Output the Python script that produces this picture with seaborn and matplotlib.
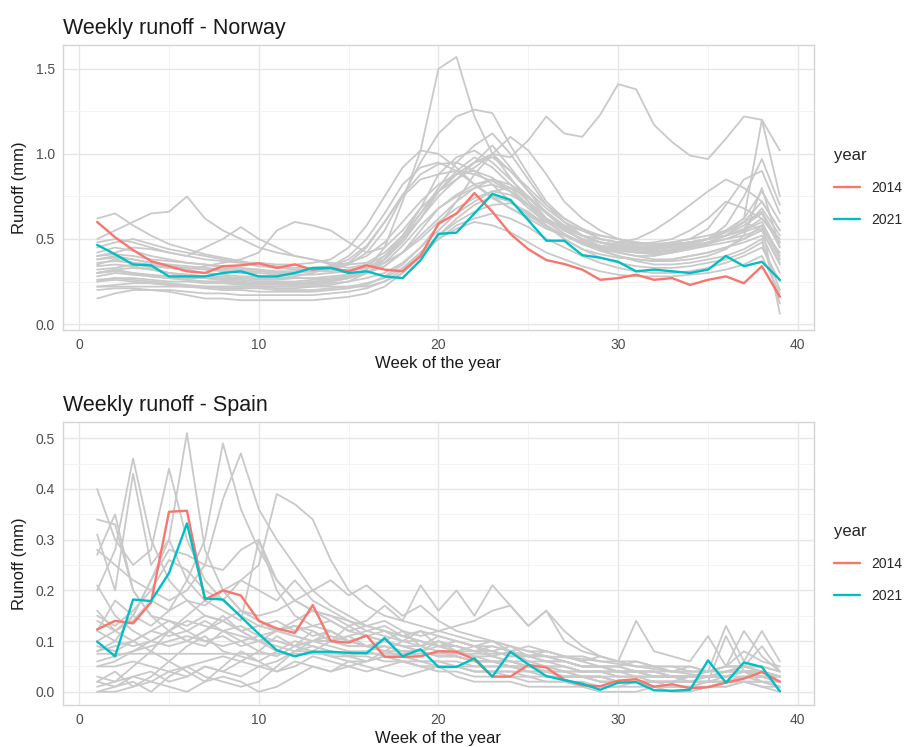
import pandas as pd
import matplotlib
matplotlib.use("Agg")
import matplotlib.pyplot as plt
import seaborn as sns
from matplotlib.lines import Line2D
from matplotlib.ticker import MultipleLocator, FormatStrFormatter

weeks = list(range(1, 40))

# ---- Norway: highlighted years ----
nor_2014 = [0.60, 0.51, 0.435, 0.37, 0.34, 0.31, 0.30, 0.34, 0.345, 0.357, 0.33, 0.35, 0.32, 0.33,
            0.31, 0.345, 0.32, 0.31, 0.40, 0.59, 0.65, 0.77, 0.66, 0.53, 0.44, 0.376, 0.353, 0.32,
            0.26, 0.27, 0.29, 0.26, 0.27, 0.23, 0.26, 0.28, 0.24, 0.34, 0.16]
nor_2021 = [0.465, 0.41, 0.35, 0.345, 0.28, 0.28, 0.28, 0.30, 0.31, 0.28, 0.28, 0.30, 0.33, 0.33,
            0.30, 0.31, 0.28, 0.27, 0.375, 0.53, 0.537, 0.65, 0.765, 0.73, 0.61, 0.49, 0.49, 0.405,
            0.39, 0.366, 0.31, 0.32, 0.31, 0.30, 0.32, 0.40, 0.34, 0.366, 0.26]

# ---- Norway: other years ----
nor_g01 = [0.35, 0.38, 0.36, 0.33, 0.30, 0.29, 0.28, 0.27, 0.27, 0.26, 0.26, 0.27, 0.27, 0.26, 0.27, 0.30, 0.38, 0.50, 0.62, 0.78, 0.88, 0.95, 1.00, 0.98, 1.08, 1.22, 1.12, 1.10, 1.23, 1.41, 1.38, 1.17, 1.07, 0.99, 0.97, 1.09, 1.22, 1.20, 1.02]
nor_g02 = [0.30, 0.32, 0.30, 0.28, 0.27, 0.26, 0.25, 0.25, 0.24, 0.24, 0.24, 0.23, 0.24, 0.25, 0.27, 0.32, 0.45, 0.72, 1.02, 1.50, 1.57, 1.22, 1.00, 0.86, 0.72, 0.62, 0.55, 0.50, 0.46, 0.44, 0.45, 0.42, 0.44, 0.46, 0.48, 0.52, 0.60, 0.72, 0.55]
nor_g03 = [0.42, 0.45, 0.43, 0.40, 0.38, 0.36, 0.35, 0.33, 0.32, 0.32, 0.30, 0.30, 0.31, 0.32, 0.35, 0.42, 0.55, 0.75, 0.95, 1.12, 1.22, 1.26, 1.24, 1.05, 0.88, 0.72, 0.62, 0.56, 0.50, 0.48, 0.46, 0.45, 0.47, 0.48, 0.50, 0.55, 0.62, 0.78, 0.60]
nor_g04 = [0.25, 0.27, 0.26, 0.25, 0.24, 0.23, 0.22, 0.22, 0.22, 0.22, 0.21, 0.21, 0.22, 0.23, 0.25, 0.30, 0.38, 0.50, 0.65, 0.80, 0.95, 1.05, 1.12, 1.00, 0.85, 0.70, 0.60, 0.52, 0.48, 0.45, 0.43, 0.42, 0.44, 0.46, 0.50, 0.58, 0.75, 0.97, 0.70]
nor_g05 = [0.50, 0.55, 0.60, 0.65, 0.66, 0.75, 0.62, 0.55, 0.50, 0.45, 0.42, 0.40, 0.38, 0.36, 0.35, 0.36, 0.42, 0.52, 0.68, 0.88, 0.98, 1.02, 0.95, 0.85, 0.75, 0.62, 0.55, 0.50, 0.48, 0.47, 0.45, 0.44, 0.46, 0.48, 0.50, 0.52, 0.55, 0.62, 0.50]
nor_g06 = [0.40, 0.42, 0.45, 0.44, 0.42, 0.40, 0.45, 0.50, 0.57, 0.50, 0.45, 0.40, 0.38, 0.35, 0.33, 0.35, 0.40, 0.50, 0.62, 0.75, 0.85, 0.95, 1.05, 0.92, 0.78, 0.65, 0.57, 0.52, 0.48, 0.46, 0.45, 0.46, 0.48, 0.50, 0.56, 0.70, 0.85, 0.90, 0.65]
nor_g07 = [0.32, 0.33, 0.35, 0.34, 0.33, 0.32, 0.34, 0.36, 0.38, 0.42, 0.55, 0.60, 0.58, 0.55, 0.48, 0.42, 0.45, 0.55, 0.68, 0.78, 0.85, 0.92, 1.00, 0.90, 0.78, 0.68, 0.60, 0.55, 0.50, 0.48, 0.47, 0.48, 0.50, 0.55, 0.62, 0.72, 0.68, 0.62, 0.48]
nor_g08 = [0.22, 0.22, 0.22, 0.22, 0.22, 0.22, 0.22, 0.22, 0.22, 0.22, 0.22, 0.22, 0.22, 0.22, 0.22, 0.22, 0.25, 0.30, 0.40, 0.52, 0.62, 0.70, 0.75, 0.72, 0.65, 0.58, 0.52, 0.47, 0.44, 0.42, 0.40, 0.40, 0.42, 0.44, 0.46, 0.48, 0.50, 0.55, 0.35]
nor_g09 = [0.15, 0.18, 0.20, 0.20, 0.19, 0.17, 0.15, 0.15, 0.14, 0.14, 0.14, 0.14, 0.14, 0.15, 0.16, 0.18, 0.22, 0.30, 0.40, 0.50, 0.58, 0.62, 0.65, 0.62, 0.57, 0.50, 0.45, 0.40, 0.36, 0.33, 0.31, 0.30, 0.30, 0.31, 0.33, 0.36, 0.40, 0.45, 0.25]
nor_g10 = [0.38, 0.40, 0.38, 0.36, 0.34, 0.33, 0.32, 0.31, 0.30, 0.30, 0.29, 0.29, 0.29, 0.30, 0.31, 0.33, 0.38, 0.48, 0.62, 0.78, 0.90, 0.98, 0.92, 0.82, 0.72, 0.62, 0.56, 0.52, 0.50, 0.48, 0.50, 0.55, 0.62, 0.70, 0.78, 0.85, 0.80, 0.72, 0.55]
nor_g11 = [0.28, 0.30, 0.29, 0.28, 0.27, 0.26, 0.25, 0.25, 0.24, 0.24, 0.24, 0.24, 0.25, 0.26, 0.28, 0.32, 0.40, 0.52, 0.65, 0.78, 0.88, 0.95, 0.98, 0.90, 0.80, 0.70, 0.62, 0.56, 0.52, 0.50, 0.48, 0.47, 0.48, 0.50, 0.52, 0.55, 0.62, 1.20, 0.75]
nor_g12 = [0.45, 0.48, 0.50, 0.47, 0.44, 0.42, 0.40, 0.38, 0.36, 0.34, 0.33, 0.32, 0.32, 0.33, 0.36, 0.45, 0.60, 0.75, 0.85, 0.88, 0.90, 0.88, 0.84, 0.78, 0.70, 0.62, 0.56, 0.52, 0.48, 0.45, 0.44, 0.43, 0.44, 0.45, 0.48, 0.50, 0.52, 0.56, 0.42]
nor_g13 = [0.30, 0.32, 0.33, 0.32, 0.30, 0.29, 0.28, 0.28, 0.27, 0.27, 0.27, 0.28, 0.30, 0.34, 0.40, 0.50, 0.65, 0.82, 0.92, 0.95, 0.90, 0.82, 0.75, 0.68, 0.62, 0.56, 0.52, 0.48, 0.45, 0.42, 0.40, 0.38, 0.38, 0.40, 0.42, 0.45, 0.48, 0.52, 0.30]
nor_g14 = [0.36, 0.37, 0.36, 0.35, 0.33, 0.32, 0.30, 0.29, 0.28, 0.28, 0.27, 0.27, 0.27, 0.28, 0.29, 0.30, 0.34, 0.42, 0.52, 0.62, 0.72, 0.80, 0.85, 0.82, 0.75, 0.66, 0.58, 0.52, 0.48, 0.46, 0.45, 0.45, 0.46, 0.48, 0.50, 0.52, 0.56, 0.68, 0.52]
nor_g15 = [0.26, 0.27, 0.27, 0.26, 0.25, 0.25, 0.24, 0.24, 0.23, 0.23, 0.23, 0.23, 0.23, 0.24, 0.25, 0.27, 0.30, 0.36, 0.45, 0.58, 0.72, 0.88, 1.00, 1.10, 1.02, 0.88, 0.72, 0.62, 0.55, 0.50, 0.47, 0.46, 0.47, 0.48, 0.50, 0.54, 0.60, 0.66, 0.48]
nor_g16 = [0.40, 0.41, 0.40, 0.38, 0.37, 0.36, 0.35, 0.34, 0.33, 0.32, 0.31, 0.31, 0.31, 0.31, 0.32, 0.33, 0.36, 0.42, 0.50, 0.60, 0.68, 0.74, 0.78, 0.76, 0.70, 0.62, 0.55, 0.50, 0.46, 0.44, 0.42, 0.41, 0.42, 0.44, 0.47, 0.50, 0.54, 0.58, 0.38]
nor_g17 = [0.62, 0.65, 0.58, 0.52, 0.47, 0.44, 0.41, 0.39, 0.37, 0.35, 0.34, 0.33, 0.33, 0.34, 0.36, 0.40, 0.48, 0.60, 0.72, 0.82, 0.88, 0.90, 0.86, 0.78, 0.68, 0.60, 0.53, 0.48, 0.45, 0.43, 0.42, 0.42, 0.43, 0.45, 0.48, 0.52, 0.58, 0.65, 0.45]
nor_g18 = [0.22, 0.23, 0.24, 0.24, 0.23, 0.22, 0.21, 0.20, 0.20, 0.19, 0.19, 0.19, 0.19, 0.20, 0.21, 0.23, 0.28, 0.35, 0.45, 0.55, 0.65, 0.72, 0.78, 0.80, 0.74, 0.65, 0.56, 0.49, 0.44, 0.40, 0.37, 0.35, 0.35, 0.36, 0.38, 0.40, 0.44, 0.50, 0.12]
nor_g19 = [0.34, 0.35, 0.34, 0.32, 0.30, 0.28, 0.27, 0.26, 0.25, 0.24, 0.24, 0.24, 0.24, 0.25, 0.27, 0.30, 0.36, 0.46, 0.58, 0.68, 0.75, 0.80, 0.82, 0.78, 0.70, 0.61, 0.53, 0.47, 0.43, 0.40, 0.38, 0.37, 0.38, 0.40, 0.42, 0.45, 0.50, 0.58, 0.06]
nor_g20 = [0.48, 0.50, 0.48, 0.45, 0.42, 0.40, 0.38, 0.37, 0.36, 0.36, 0.35, 0.35, 0.36, 0.38, 0.45, 0.58, 0.75, 0.92, 1.02, 1.00, 0.92, 0.82, 0.74, 0.68, 0.63, 0.60, 0.58, 0.55, 0.52, 0.50, 0.48, 0.47, 0.47, 0.48, 0.50, 0.52, 0.55, 0.60, 0.40]
nor_g21 = [0.30, 0.31, 0.30, 0.29, 0.28, 0.27, 0.27, 0.26, 0.26, 0.25, 0.25, 0.25, 0.26, 0.27, 0.28, 0.30, 0.34, 0.42, 0.55, 0.68, 0.76, 0.82, 0.85, 0.80, 0.70, 0.58, 0.50, 0.44, 0.41, 0.39, 0.38, 0.37, 0.37, 0.38, 0.40, 0.44, 0.52, 0.80, 0.45]
nor_g22 = [0.25, 0.26, 0.25, 0.24, 0.23, 0.22, 0.22, 0.21, 0.21, 0.21, 0.20, 0.20, 0.20, 0.21, 0.22, 0.24, 0.27, 0.33, 0.42, 0.52, 0.60, 0.66, 0.70, 0.71, 0.66, 0.58, 0.50, 0.44, 0.39, 0.36, 0.34, 0.33, 0.33, 0.34, 0.36, 0.38, 0.42, 0.48, 0.20]
nor_g23 = [0.38, 0.39, 0.38, 0.36, 0.35, 0.34, 0.33, 0.32, 0.31, 0.31, 0.30, 0.31, 0.32, 0.34, 0.38, 0.46, 0.60, 0.76, 0.88, 0.94, 0.95, 0.90, 0.82, 0.72, 0.64, 0.57, 0.52, 0.48, 0.46, 0.45, 0.44, 0.44, 0.45, 0.47, 0.50, 0.54, 0.60, 0.55, 0.36]
nor_g24 = [0.20, 0.21, 0.21, 0.20, 0.20, 0.19, 0.18, 0.18, 0.17, 0.17, 0.17, 0.17, 0.17, 0.18, 0.19, 0.21, 0.25, 0.32, 0.42, 0.50, 0.56, 0.60, 0.58, 0.54, 0.48, 0.42, 0.38, 0.34, 0.31, 0.29, 0.28, 0.28, 0.28, 0.29, 0.30, 0.32, 0.35, 0.40, 0.18]

# ---- Spain: highlighted years ----
esp_2014 = [0.123, 0.14, 0.135, 0.176, 0.355, 0.357, 0.182, 0.20, 0.19, 0.14, 0.125, 0.116, 0.171,
            0.10, 0.097, 0.111, 0.069, 0.069, 0.07, 0.08, 0.079, 0.064, 0.03, 0.03, 0.053, 0.048,
            0.024, 0.013, 0.011, 0.022, 0.025, 0.01, 0.015, 0.007, 0.009, 0.018, 0.026, 0.039, 0.02]
esp_2021 = [0.099, 0.07, 0.182, 0.179, 0.234, 0.332, 0.184, 0.182, 0.148, 0.114, 0.082, 0.07, 0.079,
            0.079, 0.077, 0.076, 0.106, 0.07, 0.084, 0.049, 0.049, 0.066, 0.03, 0.079, 0.054, 0.031,
            0.023, 0.016, 0.004, 0.018, 0.019, 0.003, 0.002, 0.004, 0.062, 0.018, 0.058, 0.049, 0.001]

# ---- Spain: other years ----
esp_g01 = [0.20, 0.28, 0.46, 0.30, 0.22, 0.18, 0.15, 0.14, 0.12, 0.10, 0.10, 0.09, 0.10, 0.09, 0.08, 0.08, 0.07, 0.07, 0.06, 0.06, 0.06, 0.05, 0.05, 0.05, 0.04, 0.04, 0.03, 0.03, 0.03, 0.02, 0.02, 0.02, 0.02, 0.02, 0.02, 0.02, 0.03, 0.03, 0.02]
esp_g02 = [0.08, 0.10, 0.15, 0.22, 0.30, 0.51, 0.28, 0.20, 0.16, 0.14, 0.12, 0.11, 0.10, 0.10, 0.09, 0.09, 0.08, 0.08, 0.08, 0.07, 0.07, 0.06, 0.06, 0.05, 0.05, 0.04, 0.04, 0.03, 0.03, 0.03, 0.03, 0.02, 0.02, 0.02, 0.02, 0.03, 0.03, 0.02, 0.02]
esp_g03 = [0.10, 0.12, 0.14, 0.18, 0.16, 0.22, 0.30, 0.49, 0.36, 0.28, 0.22, 0.18, 0.16, 0.14, 0.12, 0.11, 0.10, 0.09, 0.09, 0.08, 0.08, 0.07, 0.07, 0.06, 0.05, 0.05, 0.04, 0.04, 0.04, 0.03, 0.03, 0.03, 0.03, 0.03, 0.03, 0.03, 0.04, 0.04, 0.03]
esp_g04 = [0.28, 0.25, 0.22, 0.20, 0.18, 0.20, 0.25, 0.38, 0.47, 0.36, 0.30, 0.25, 0.20, 0.17, 0.15, 0.13, 0.12, 0.11, 0.10, 0.09, 0.09, 0.08, 0.08, 0.07, 0.07, 0.06, 0.06, 0.05, 0.05, 0.05, 0.04, 0.04, 0.04, 0.04, 0.04, 0.05, 0.05, 0.04, 0.03]
esp_g05 = [0.40, 0.30, 0.25, 0.28, 0.44, 0.30, 0.22, 0.18, 0.15, 0.13, 0.12, 0.11, 0.10, 0.10, 0.09, 0.09, 0.08, 0.08, 0.08, 0.07, 0.07, 0.06, 0.06, 0.06, 0.05, 0.05, 0.05, 0.04, 0.04, 0.04, 0.04, 0.03, 0.03, 0.03, 0.03, 0.03, 0.04, 0.04, 0.03]
esp_g06 = [0.05, 0.06, 0.08, 0.10, 0.12, 0.15, 0.18, 0.20, 0.22, 0.25, 0.39, 0.37, 0.34, 0.26, 0.20, 0.17, 0.15, 0.14, 0.13, 0.12, 0.11, 0.10, 0.10, 0.09, 0.08, 0.08, 0.07, 0.07, 0.06, 0.06, 0.05, 0.05, 0.05, 0.05, 0.04, 0.04, 0.05, 0.05, 0.04]
esp_g07 = [0.075, 0.075, 0.075, 0.075, 0.075, 0.075, 0.075, 0.075, 0.075, 0.075, 0.075, 0.075, 0.075, 0.075, 0.075, 0.075, 0.075, 0.075, 0.075, 0.075, 0.075, 0.075, 0.075, 0.075, 0.072, 0.070, 0.068, 0.065, 0.060, 0.055, 0.050, 0.045, 0.040, 0.035, 0.030, 0.030, 0.030, 0.030, 0.030]
esp_g08 = [0.34, 0.33, 0.20, 0.15, 0.12, 0.10, 0.12, 0.15, 0.12, 0.10, 0.09, 0.08, 0.08, 0.07, 0.07, 0.07, 0.06, 0.06, 0.06, 0.06, 0.05, 0.05, 0.05, 0.05, 0.05, 0.04, 0.04, 0.04, 0.04, 0.04, 0.03, 0.03, 0.03, 0.03, 0.03, 0.04, 0.04, 0.04, 0.03]
esp_g09 = [0.31, 0.20, 0.43, 0.25, 0.30, 0.22, 0.18, 0.16, 0.14, 0.30, 0.20, 0.15, 0.13, 0.12, 0.10, 0.09, 0.09, 0.08, 0.08, 0.07, 0.07, 0.06, 0.06, 0.06, 0.05, 0.05, 0.05, 0.04, 0.04, 0.04, 0.04, 0.03, 0.03, 0.03, 0.03, 0.04, 0.04, 0.03, 0.03]
esp_g10 = [0.00, 0.01, 0.02, 0.00, 0.03, 0.05, 0.03, 0.02, 0.01, 0.02, 0.05, 0.08, 0.10, 0.12, 0.10, 0.09, 0.08, 0.10, 0.12, 0.09, 0.08, 0.07, 0.06, 0.05, 0.05, 0.04, 0.03, 0.03, 0.02, 0.02, 0.02, 0.01, 0.01, 0.01, 0.01, 0.02, 0.02, 0.01, 0.01]
esp_g11 = [0.02, 0.04, 0.01, 0.03, 0.06, 0.04, 0.02, 0.05, 0.08, 0.06, 0.04, 0.05, 0.07, 0.06, 0.05, 0.06, 0.08, 0.07, 0.06, 0.05, 0.05, 0.04, 0.04, 0.03, 0.03, 0.02, 0.02, 0.02, 0.01, 0.01, 0.01, 0.01, 0.01, 0.01, 0.01, 0.01, 0.02, 0.02, 0.01]
esp_g12 = [0.21, 0.15, 0.12, 0.10, 0.09, 0.10, 0.12, 0.14, 0.16, 0.15, 0.16, 0.18, 0.20, 0.22, 0.19, 0.21, 0.18, 0.15, 0.17, 0.14, 0.12, 0.11, 0.10, 0.09, 0.08, 0.07, 0.06, 0.05, 0.05, 0.04, 0.04, 0.03, 0.03, 0.03, 0.03, 0.03, 0.04, 0.04, 0.03]
esp_g13 = [0.12, 0.10, 0.09, 0.10, 0.12, 0.14, 0.13, 0.12, 0.13, 0.11, 0.12, 0.14, 0.16, 0.15, 0.13, 0.14, 0.17, 0.14, 0.21, 0.16, 0.20, 0.15, 0.21, 0.17, 0.13, 0.16, 0.10, 0.08, 0.07, 0.06, 0.05, 0.05, 0.04, 0.04, 0.04, 0.05, 0.05, 0.04, 0.03]
esp_g14 = [0.06, 0.07, 0.08, 0.09, 0.10, 0.11, 0.10, 0.09, 0.10, 0.11, 0.10, 0.09, 0.10, 0.11, 0.10, 0.09, 0.10, 0.09, 0.08, 0.09, 0.08, 0.08, 0.09, 0.08, 0.07, 0.08, 0.07, 0.06, 0.07, 0.06, 0.14, 0.08, 0.07, 0.06, 0.11, 0.05, 0.08, 0.06, 0.05]
esp_g15 = [0.09, 0.08, 0.10, 0.12, 0.11, 0.12, 0.14, 0.12, 0.11, 0.10, 0.12, 0.13, 0.12, 0.10, 0.11, 0.12, 0.13, 0.11, 0.10, 0.09, 0.10, 0.09, 0.10, 0.08, 0.09, 0.08, 0.07, 0.06, 0.05, 0.05, 0.06, 0.05, 0.04, 0.05, 0.04, 0.13, 0.06, 0.12, 0.06]
esp_g16 = [0.15, 0.13, 0.16, 0.20, 0.26, 0.24, 0.20, 0.18, 0.22, 0.20, 0.18, 0.22, 0.18, 0.16, 0.14, 0.13, 0.12, 0.11, 0.12, 0.11, 0.10, 0.09, 0.09, 0.08, 0.07, 0.07, 0.06, 0.05, 0.05, 0.05, 0.04, 0.04, 0.03, 0.03, 0.03, 0.03, 0.04, 0.04, 0.03]
esp_g17 = [0.03, 0.02, 0.05, 0.08, 0.06, 0.09, 0.11, 0.08, 0.07, 0.06, 0.08, 0.10, 0.09, 0.08, 0.07, 0.06, 0.07, 0.06, 0.05, 0.05, 0.05, 0.04, 0.04, 0.04, 0.03, 0.03, 0.03, 0.03, 0.02, 0.02, 0.02, 0.02, 0.02, 0.03, 0.04, 0.05, 0.12, 0.07, 0.04]
esp_g18 = [0.08, 0.09, 0.10, 0.12, 0.14, 0.13, 0.15, 0.14, 0.12, 0.13, 0.14, 0.12, 0.13, 0.14, 0.12, 0.13, 0.14, 0.12, 0.11, 0.12, 0.13, 0.14, 0.16, 0.17, 0.13, 0.16, 0.12, 0.09, 0.07, 0.06, 0.06, 0.05, 0.05, 0.04, 0.04, 0.05, 0.05, 0.05, 0.04]
esp_g19 = [0.12, 0.18, 0.15, 0.22, 0.28, 0.27, 0.25, 0.24, 0.28, 0.30, 0.22, 0.18, 0.16, 0.15, 0.14, 0.12, 0.11, 0.10, 0.10, 0.09, 0.09, 0.08, 0.08, 0.07, 0.07, 0.06, 0.06, 0.05, 0.05, 0.04, 0.04, 0.04, 0.03, 0.03, 0.03, 0.04, 0.04, 0.04, 0.03]
esp_g20 = [0.27, 0.35, 0.20, 0.15, 0.14, 0.12, 0.10, 0.11, 0.09, 0.10, 0.08, 0.07, 0.08, 0.07, 0.06, 0.06, 0.07, 0.06, 0.05, 0.05, 0.05, 0.04, 0.04, 0.04, 0.04, 0.03, 0.03, 0.03, 0.03, 0.02, 0.02, 0.02, 0.02, 0.02, 0.02, 0.02, 0.03, 0.03, 0.02]
esp_g21 = [0.00, 0.00, 0.01, 0.02, 0.01, 0.00, 0.02, 0.03, 0.02, 0.00, 0.01, 0.03, 0.05, 0.04, 0.06, 0.05, 0.04, 0.03, 0.04, 0.05, 0.03, 0.02, 0.02, 0.02, 0.01, 0.01, 0.01, 0.01, 0.00, 0.00, 0.00, 0.01, 0.00, 0.00, 0.01, 0.01, 0.02, 0.01, 0.00]
esp_g22 = [0.05, 0.05, 0.06, 0.05, 0.04, 0.05, 0.06, 0.07, 0.06, 0.05, 0.06, 0.08, 0.09, 0.08, 0.07, 0.08, 0.09, 0.08, 0.07, 0.08, 0.07, 0.06, 0.06, 0.05, 0.04, 0.04, 0.03, 0.03, 0.02, 0.02, 0.02, 0.02, 0.02, 0.02, 0.02, 0.02, 0.03, 0.03, 0.02]
esp_g23 = [0.01, 0.02, 0.03, 0.02, 0.04, 0.03, 0.05, 0.04, 0.06, 0.08, 0.07, 0.09, 0.08, 0.10, 0.11, 0.09, 0.10, 0.09, 0.08, 0.10, 0.09, 0.08, 0.07, 0.06, 0.06, 0.05, 0.04, 0.03, 0.03, 0.02, 0.02, 0.02, 0.01, 0.01, 0.02, 0.02, 0.02, 0.02, 0.01]
esp_g24 = [0.16, 0.12, 0.10, 0.08, 0.12, 0.10, 0.09, 0.12, 0.10, 0.08, 0.11, 0.09, 0.12, 0.10, 0.13, 0.11, 0.10, 0.12, 0.09, 0.10, 0.08, 0.09, 0.07, 0.08, 0.06, 0.06, 0.05, 0.04, 0.04, 0.03, 0.03, 0.03, 0.03, 0.02, 0.03, 0.03, 0.04, 0.03, 0.02]
esp_g25 = [0.02, 0.01, 0.03, 0.04, 0.02, 0.03, 0.05, 0.04, 0.03, 0.05, 0.04, 0.06, 0.05, 0.04, 0.05, 0.04, 0.05, 0.06, 0.05, 0.04, 0.04, 0.03, 0.03, 0.03, 0.02, 0.02, 0.02, 0.01, 0.01, 0.01, 0.02, 0.01, 0.01, 0.01, 0.02, 0.11, 0.04, 0.02, 0.01]
esp_g26 = [0.14, 0.12, 0.15, 0.13, 0.16, 0.18, 0.17, 0.20, 0.16, 0.14, 0.12, 0.13, 0.11, 0.12, 0.10, 0.11, 0.12, 0.10, 0.09, 0.11, 0.10, 0.09, 0.08, 0.09, 0.07, 0.07, 0.06, 0.05, 0.05, 0.04, 0.04, 0.04, 0.03, 0.03, 0.03, 0.04, 0.05, 0.09, 0.04]

nor_other = [nor_g01, nor_g02, nor_g03, nor_g04, nor_g05, nor_g06, nor_g07, nor_g08, nor_g09, nor_g10,
             nor_g11, nor_g12, nor_g13, nor_g14, nor_g15, nor_g16, nor_g17, nor_g18, nor_g19, nor_g20,
             nor_g21, nor_g22, nor_g23, nor_g24]
esp_other = [esp_g01, esp_g02, esp_g03, esp_g04, esp_g05, esp_g06, esp_g07, esp_g08, esp_g09, esp_g10,
             esp_g11, esp_g12, esp_g13, esp_g14, esp_g15, esp_g16, esp_g17, esp_g18, esp_g19, esp_g20,
             esp_g21, esp_g22, esp_g23, esp_g24, esp_g25, esp_g26]

year_colors = {"2014": "#F8766D", "2021": "#00BFC4"}

sns.set_theme(style="white")
plt.rcParams["font.family"] = ["Liberation Sans", "DejaVu Sans"]

W, H = 910, 747
fig = plt.figure(figsize=(W / 100, H / 100), dpi=100)
fig.patch.set_facecolor("white")


def to_long(series):
    rows = []
    for i, vals in enumerate(series):
        for w, v in zip(weeks, vals):
            rows.append((i, w, v))
    return pd.DataFrame(rows, columns=["series", "week", "runoff"])


def panel(rect, other, s2014, s2021, ylim, ymajor, yminor, title):
    ax = fig.add_axes(rect)
    grey = to_long(other)
    sns.lineplot(data=grey, x="week", y="runoff", units="series", estimator=None,
                 color="#c9c9c9", linewidth=1.3, ax=ax, legend=False)
    hl = pd.DataFrame({"week": weeks + weeks,
                       "runoff": s2014 + s2021,
                       "year": ["2014"] * len(weeks) + ["2021"] * len(weeks)})
    sns.lineplot(data=hl, x="week", y="runoff", hue="year", palette=year_colors,
                 linewidth=1.7, ax=ax, legend=False)

    ax.set_xlim(-0.9, 40.9)
    ax.set_ylim(*ylim)
    ax.xaxis.set_major_locator(MultipleLocator(10))
    ax.xaxis.set_minor_locator(MultipleLocator(5))
    ax.yaxis.set_major_locator(MultipleLocator(ymajor))
    ax.yaxis.set_minor_locator(MultipleLocator(yminor))
    ax.yaxis.set_major_formatter(FormatStrFormatter("%.1f"))
    ax.grid(True, which="major", color="#e6e6e6", linewidth=1.0)
    ax.grid(True, which="minor", color="#f1f1f1", linewidth=0.6)
    ax.set_axisbelow(True)
    for sp in ax.spines.values():
        sp.set_visible(True)
        sp.set_color("#d4d4d4")
        sp.set_linewidth(1.0)
    ax.tick_params(axis="both", which="major", length=3, width=0.8, color="#b3b3b3",
                   labelsize=10, labelcolor="#4d4d4d", pad=3)
    ax.tick_params(axis="both", which="minor", length=0)
    ax.set_xlabel("Week of the year", fontsize=12, color="#1a1a1a", labelpad=3)
    ax.set_ylabel("Runoff (mm)", fontsize=12, color="#1a1a1a", labelpad=6)
    ax.set_title(title, loc="left", fontsize=15.5, color="#1a1a1a", pad=8)

    handles = [Line2D([0], [0], color=year_colors[y], lw=1.7) for y in ["2014", "2021"]]
    leg = ax.legend(handles, ["2014", "2021"], title="year", loc="center left",
                    bbox_to_anchor=(1.01, 0.5), frameon=False, fontsize=10,
                    title_fontsize=12, handlelength=1.9, labelspacing=1.3,
                    handletextpad=0.8, borderaxespad=0.5)
    leg._legend_box.align = "left"
    return ax


panel([63 / W, 1 - 330 / H, 751 / W, 285 / H], nor_other, nor_2014, nor_2021,
      (-0.035, 1.64), 0.5, 0.25, "Weekly runoff - Norway")
panel([63 / W, 1 - 705 / H, 751 / W, 283 / H], esp_other, esp_2014, esp_2021,
      (-0.026, 0.532), 0.1, 0.05, "Weekly runoff - Spain")

fig.savefig("out.png", dpi=100)
